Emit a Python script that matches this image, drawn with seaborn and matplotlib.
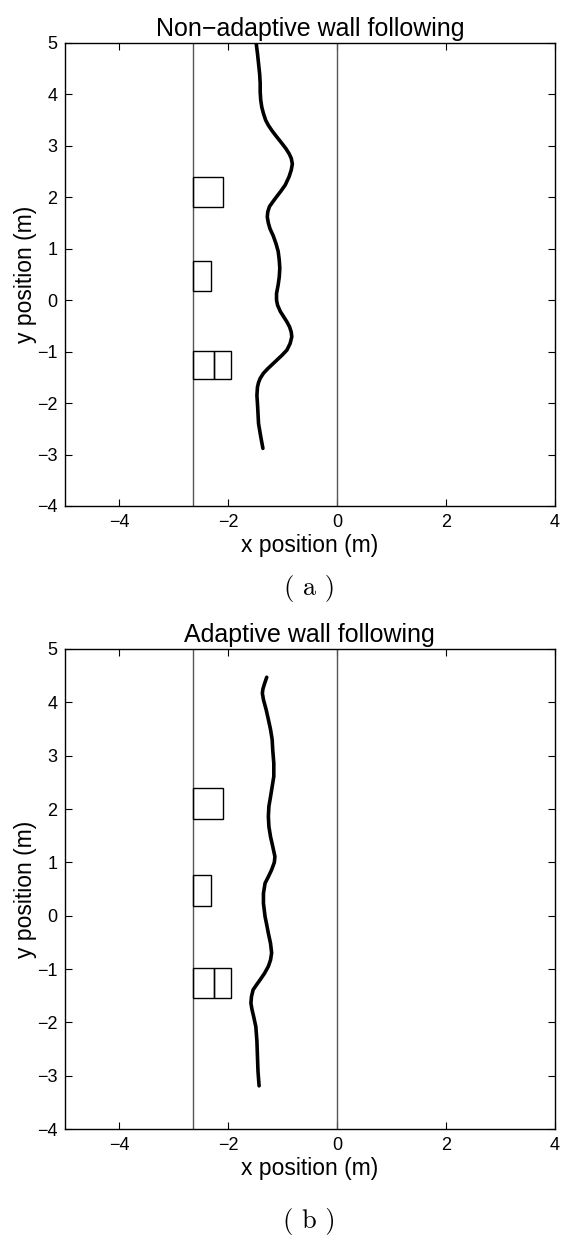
import matplotlib
matplotlib.use("Agg")
import matplotlib.pyplot as plt
import seaborn as sns
import pandas as pd
from matplotlib.patches import Rectangle

# ---- data ----
traj_a_y = [5.05, 4.80, 4.60, 4.40, 4.22, 4.05, 3.89, 3.75, 3.63, 3.50, 3.40, 3.29, 3.18, 3.06,
            2.95, 2.85, 2.76, 2.65, 2.53, 2.40, 2.24, 2.12, 2.01, 1.91, 1.82, 1.72, 1.62, 1.50,
            1.39, 1.25, 1.10, 0.95, 0.78, 0.62, 0.45, 0.30, 0.13, 0.00, -0.10, -0.22, -0.32,
            -0.42, -0.52, -0.62, -0.71, -0.84, -0.97, -1.07, -1.17, -1.25, -1.33, -1.42, -1.52,
            -1.60, -1.69, -1.85, -2.01, -2.20, -2.40, -2.65, -2.88]
traj_a_x = [-1.49, -1.46, -1.44, -1.42, -1.41, -1.41, -1.40, -1.38, -1.35, -1.31, -1.26, -1.19,
            -1.11, -1.02, -0.94, -0.88, -0.84, -0.82, -0.84, -0.88, -0.95, -1.03, -1.11, -1.18,
            -1.24, -1.27, -1.28, -1.26, -1.23, -1.17, -1.12, -1.08, -1.06, -1.05, -1.06, -1.08,
            -1.11, -1.11, -1.09, -1.04, -0.98, -0.92, -0.87, -0.84, -0.83, -0.86, -0.92, -1.01,
            -1.11, -1.19, -1.27, -1.35, -1.41, -1.44, -1.46, -1.47, -1.46, -1.45, -1.44, -1.40,
            -1.36]

traj_b_y = [4.47, 4.35, 4.25, 4.17, 4.05, 3.86, 3.68, 3.49, 3.30, 3.11, 2.86, 2.61, 2.42, 2.23,
            2.05, 1.86, 1.67, 1.48, 1.30, 1.11, 1.00, 0.86, 0.73, 0.61, 0.42, 0.23, -0.02, -0.17,
            -0.33, -0.52, -0.70, -0.83, -0.95, -1.08, -1.20, -1.30, -1.39, -1.52, -1.64, -1.76,
            -1.89, -2.08, -2.35, -2.64, -2.92, -3.19]
traj_b_x = [-1.29, -1.33, -1.36, -1.37, -1.35, -1.30, -1.26, -1.22, -1.19, -1.18, -1.16, -1.16,
            -1.19, -1.22, -1.25, -1.26, -1.25, -1.22, -1.18, -1.14, -1.15, -1.20, -1.26, -1.32,
            -1.35, -1.35, -1.32, -1.29, -1.26, -1.22, -1.20, -1.22, -1.26, -1.33, -1.41, -1.48,
            -1.54, -1.57, -1.58, -1.56, -1.53, -1.49, -1.47, -1.46, -1.45, -1.43]

wall_x = [-2.64, 0.0]
box_x0 = [-2.64, -2.64, -2.64, -2.26]
box_x1 = [-2.09, -2.32, -2.26, -1.95]
box_y0 = [1.81, 0.18, -1.54, -1.54]
box_y1 = [2.39, 0.77, -0.99, -0.99]

titles = ["Non\u2212adaptive wall following", "Adaptive wall following"]
captions = ["( a )", "( b )"]
xticks = [-4, -2, 0, 2, 4]
yticks = [-4, -3, -2, -1, 0, 1, 2, 3, 4, 5]

sns.set_theme(style="ticks")
plt.rcParams["font.family"] = ["Liberation Sans", "DejaVu Sans"]
plt.rcParams.update({
    "xtick.direction": "in", "ytick.direction": "in",
    "xtick.top": True, "ytick.right": True,
    "xtick.major.size": 5, "ytick.major.size": 5,
    "xtick.major.width": 0.8, "ytick.major.width": 0.8,
    "axes.linewidth": 1.0, "axes.edgecolor": "black",
    "xtick.color": "black", "ytick.color": "black",
    "text.color": "black", "axes.labelcolor": "black",
    "axes.titlecolor": "black",
})

fig = plt.figure(figsize=(5.64, 12.35), dpi=100)
ax_a = fig.add_axes([0.1144, 0.5903, 0.8697, 0.3749])
ax_b = fig.add_axes([0.1144, 0.0858, 0.8697, 0.3887])

for ax, tx, ty, title, cap, capy in [(ax_a, traj_a_x, traj_a_y, titles[0], captions[0], -0.178),
                                     (ax_b, traj_b_x, traj_b_y, titles[1], captions[1], -0.192)]:
    for wx in wall_x:
        ax.axvline(wx, color="#555555", lw=1.0, zorder=1)
    for x0, x1, y0, y1 in zip(box_x0, box_x1, box_y0, box_y1):
        ax.add_patch(Rectangle((x0, y0), x1 - x0, y1 - y0, fill=False,
                               edgecolor="black", lw=1.0, zorder=2))
    df = pd.DataFrame({"x": tx, "y": ty})
    sns.lineplot(data=df, x="x", y="y", sort=False, estimator=None, ax=ax,
                 color="black", lw=2.6, zorder=3,
                 solid_joinstyle="round", solid_capstyle="round")
    ax.set_xlim(-5, 4)
    ax.set_ylim(-4, 5)
    ax.set_xticks(xticks)
    ax.set_yticks(yticks)
    ax.tick_params(labelsize=13)
    ax.tick_params(axis="x", pad=6)
    ax.tick_params(axis="y", pad=5)
    ax.set_xlabel("x position (m)", fontsize=16.5, labelpad=2)
    ax.set_ylabel("y position (m)", fontsize=16.5, labelpad=0)
    ax.set_title(title, fontsize=18, pad=5)
    ax.text(0.5, capy, cap, transform=ax.transAxes, ha="center", va="center",
            fontsize=19, family=["cmr10", "DejaVu Serif"])
    for s in ax.spines.values():
        s.set_visible(True)
        s.set_color("black")

fig.savefig("out.png", dpi=100)
